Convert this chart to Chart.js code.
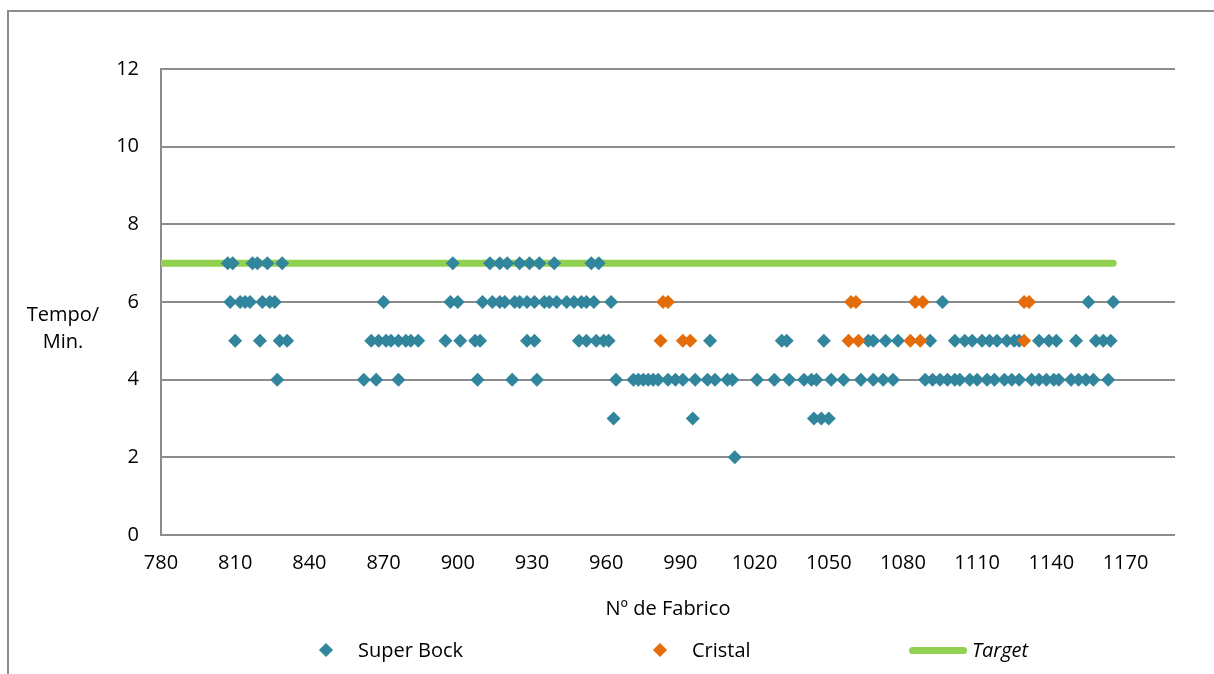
<!DOCTYPE html>
<html>
<head>
<meta charset="utf-8">
<script src="https://cdn.jsdelivr.net/npm/chart.js@4.4.1/dist/chart.umd.min.js"></script>
<style>
    body { margin: 0; background: #fff; font-family: "Open Sans", sans-serif; color: #000; }
    #quadro { position: relative; width: 1214px; height: 674px; overflow: hidden; }
    #moldura { position: absolute; left: 7px; top: 10px; width: 1400px; height: 900px; border-left: 2px solid #8c8c8c; border-top: 2px solid #8c8c8c; }
    canvas { position: absolute; left: 0; top: 0; }
    #tituloY { position: absolute; left: 18px; top: 300px; width: 90px; text-align: center; font-size: 20px; line-height: 27px; }
    .leg { position: absolute; font-size: 20px; line-height: 24px; top: 638px; }
    .losango { position: absolute; width: 10px; height: 10px; transform: rotate(45deg); top: 645px; }
    #linhaTarget { position: absolute; left: 909px; top: 647px; width: 58px; height: 7px; border-radius: 4px; background: #92d050; }
</style>
</head>
<body>
<div id="quadro">
    <div id="moldura"></div>
    <canvas id="graficoTempo" width="1214" height="674"></canvas>
    <div id="tituloY">Tempo/<br>Min.</div>
    <div class="losango" style="left:321px;background:#31859c"></div>
    <div class="leg" style="left:358px">Super Bock</div>
    <div class="losango" style="left:655px;background:#e46c0a"></div>
    <div class="leg" style="left:692px">Cristal</div>
    <div id="linhaTarget"></div>
    <div class="leg" style="left:972px;font-style:italic">Target</div>
</div>
<script>
// Nº de fabrico de cada lote, agrupado pelo tempo (min)
const superBockT7 = [807, 809, 817, 819, 823, 829, 898, 913, 917, 920, 925, 929, 933, 939, 954, 957];
const superBockT6 = [808, 812, 814, 816, 821, 824, 826, 870, 897, 900, 910, 914, 917, 919, 923, 925, 928, 931,
    935, 937, 940, 944, 947, 950, 952, 955, 962, 1096, 1155, 1165];
const superBockT5 = [810, 820, 828, 831, 865, 868, 871, 873, 876, 879, 881, 884, 895, 901, 907, 909, 928, 931,
    949, 952, 956, 959, 961, 1002, 1031, 1033, 1048, 1066, 1068, 1073, 1078, 1091, 1101, 1105, 1108, 1112,
    1115, 1118, 1122, 1125, 1127, 1135, 1139, 1142, 1150, 1158, 1161, 1164];
const superBockT4 = [827, 862, 867, 876, 908, 922, 932, 964, 971, 973, 975, 977, 979, 981, 985, 988, 991, 996,
    1001, 1004, 1009, 1011, 1021, 1028, 1034, 1040, 1043, 1045, 1051, 1056, 1063, 1068, 1072, 1076, 1089,
    1092, 1095, 1098, 1101, 1103, 1107, 1110, 1114, 1117, 1121, 1124, 1127, 1132, 1135, 1138, 1141, 1143,
    1148, 1151, 1154, 1157, 1163];
const superBockT3 = [963, 995, 1044, 1047, 1050];
const superBockT2 = [1012];

const cristalT6 = [983, 985, 1059, 1061, 1085, 1088, 1129, 1131];
const cristalT5 = [982, 991, 994, 1058, 1062, 1083, 1087, 1129];

const targetFabrico = [780, 1165];
const targetTempo = [7, 7];

const ticksX = [780, 810, 840, 870, 900, 930, 960, 990, 1020, 1050, 1080, 1110, 1140, 1170];
const ticksY = [0, 2, 4, 6, 8, 10, 12];
const xMax = 1190;

function pontos(lista, tempo) {
    return lista.map(f => ({ x: f, y: tempo }));
}

const dadosSuperBock = [].concat(
    pontos(superBockT7, 7), pontos(superBockT6, 6), pontos(superBockT5, 5),
    pontos(superBockT4, 4), pontos(superBockT3, 3), pontos(superBockT2, 2)
);
const dadosCristal = [].concat(pontos(cristalT6, 6), pontos(cristalT5, 5));
const dadosTarget = targetFabrico.map((f, i) => ({ x: f, y: targetTempo[i] }));

const fonte = { family: '"Open Sans", sans-serif', size: 20 };
const cinza = '#8c8c8c';

new Chart(document.getElementById('graficoTempo'), {
    type: 'scatter',
    data: {
        datasets: [{
            label: 'Super Bock',
            data: dadosSuperBock,
            pointStyle: 'rectRot',
            pointRadius: 7,
            pointHoverRadius: 7,
            borderWidth: 0,
            backgroundColor: '#31859c',
            order: 2
        }, {
            label: 'Cristal',
            data: dadosCristal,
            pointStyle: 'rectRot',
            pointRadius: 7,
            pointHoverRadius: 7,
            borderWidth: 0,
            backgroundColor: '#e46c0a',
            order: 1
        }, {
            label: 'Target',
            type: 'line',
            data: dadosTarget,
            borderColor: '#92d050',
            borderWidth: 7,
            borderCapStyle: 'round',
            pointRadius: 0,
            order: 3
        }]
    },
    options: {
        responsive: false,
        animation: false,
        layout: { padding: { top: 69, right: 39, bottom: 0, left: 0 } },
        plugins: {
            legend: { display: false },
            tooltip: { enabled: false }
        },
        scales: {
            x: {
                type: 'linear',
                min: ticksX[0],
                max: xMax,
                grid: { display: false, drawTicks: false },
                border: { display: false },
                ticks: {
                    color: '#000',
                    font: fonte,
                    padding: 16,
                    maxRotation: 0,
                    autoSkip: false,
                    callback: v => String(v)
                },
                afterBuildTicks: function (scale) {
                    scale.ticks = ticksX.map(v => ({ value: v }));
                },
                afterFit: function (scale) {
                    scale.height = 139;
                },
                title: {
                    display: true,
                    text: 'Nº de Fabrico',
                    color: '#000',
                    font: fonte,
                    padding: { top: 0, bottom: 53 }
                }
            },
            y: {
                min: ticksY[0],
                max: ticksY[ticksY.length - 1],
                grid: { color: cinza, lineWidth: 2, drawTicks: false },
                border: { color: cinza, width: 2 },
                ticks: {
                    color: '#000',
                    font: fonte,
                    padding: 22,
                    callback: v => String(v)
                },
                afterBuildTicks: function (scale) {
                    scale.ticks = ticksY.map(v => ({ value: v }));
                },
                afterFit: function (scale) {
                    scale.width = 161;
                }
            }
        }
    }
});
</script>
</body>
</html>
